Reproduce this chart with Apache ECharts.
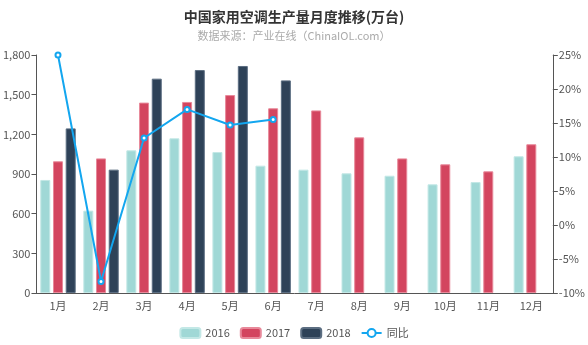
<!DOCTYPE html>
<html>
<head>
<meta charset="utf-8">
<script src="https://cdn.jsdelivr.net/npm/echarts@6/dist/echarts.min.js"></script>
<style>
  html, body { margin: 0; padding: 0; background: #fff; }
  #chart { width: 588px; height: 345px; }
</style>
</head>
<body>
<div id="chart"></div>
<script>
// Monthly output of household air conditioners in China (10k units)
const months = ['1月', '2月', '3月', '4月', '5月', '6月', '7月', '8月', '9月', '10月', '11月', '12月'];
const output2016 = [855, 623, 1079, 1170, 1066, 963, 933, 905, 887, 822, 839, 1034];
const output2017 = [996, 1018, 1440, 1445, 1497, 1397, 1381, 1177, 1018, 973, 920, 1125];
const output2018 = [1245, 933, 1621, 1686, 1717, 1608, null, null, null, null, null, null];
const yoyGrowth = [25.0, -8.3, 12.8, 17.0, 14.7, 15.5, null, null, null, null, null, null];

const leftTicks = { min: 0, max: 1800, interval: 300 };
const rightTicks = { min: -10, max: 25, interval: 5 };

const font = '"Noto Sans CJK SC", "Open Sans", sans-serif';
const axisColor = '#555';

const chart = echarts.init(document.getElementById('chart'), null, { renderer: 'canvas' });

function barSeries(name, data, color, border) {
  return {
    name: name,
    type: 'bar',
    data: data,
    barWidth: 10,
    barGap: '27%',
    itemStyle: { color: color, borderColor: border, borderWidth: 1 }
  };
}

chart.setOption({
  animation: false,
  textStyle: { fontFamily: font },
  title: {
    text: '中国家用空调生产量月度推移(万台)',
    subtext: '数据来源：产业在线（ChinaIOL.com）',
    left: 'center',
    top: 5,
    itemGap: 6,
    textStyle: { fontSize: 14, fontWeight: 'bold', color: '#333', fontFamily: font },
    subtextStyle: { fontSize: 11, color: '#aaa', fontFamily: font }
  },
  legend: {
    bottom: 1,
    left: 'center',
    itemWidth: 20,
    itemHeight: 10,
    itemGap: 10,
    textStyle: { fontSize: 11, color: '#555', fontFamily: font },
    data: [
      { name: '2016', icon: 'roundRect' },
      { name: '2017', icon: 'roundRect' },
      { name: '2018', icon: 'roundRect' },
      { name: '同比' }
    ]
  },
  grid: { left: 34, right: 35, top: 55, bottom: 52 },
  xAxis: {
    type: 'category',
    data: months,
    axisLine: { lineStyle: { color: axisColor } },
    axisTick: { lineStyle: { color: axisColor } },
    axisLabel: { color: axisColor, fontSize: 11, margin: 7 }
  },
  yAxis: [
    {
      type: 'value',
      min: leftTicks.min,
      max: leftTicks.max,
      interval: leftTicks.interval,
      splitLine: { show: false },
      axisLine: { show: true, lineStyle: { color: axisColor } },
      axisTick: { show: true, lineStyle: { color: axisColor } },
      axisLabel: {
        color: axisColor,
        fontSize: 11,
        margin: 6,
        formatter: v => v.toLocaleString('en-US')
      }
    },
    {
      type: 'value',
      min: rightTicks.min,
      max: rightTicks.max,
      interval: rightTicks.interval,
      splitLine: { show: false },
      axisLine: { show: true, lineStyle: { color: axisColor } },
      axisTick: { show: true, lineStyle: { color: axisColor } },
      axisLabel: { color: axisColor, fontSize: 11, margin: 6, formatter: '{value}%' }
    }
  ],
  series: [
    barSeries('2016', output2016, '#a0d8d6', '#c3e8e6'),
    barSeries('2017', output2017, '#d3455f', '#e8899a'),
    barSeries('2018', output2018, '#2e4258', '#5c6e82'),
    {
      name: '同比',
      type: 'line',
      yAxisIndex: 1,
      data: yoyGrowth,
      symbol: 'emptyCircle',
      symbolSize: 5,
      lineStyle: { color: '#13a6ef', width: 2 },
      itemStyle: { color: '#13a6ef', borderWidth: 1.5 }
    }
  ]
});
</script>
</body>
</html>
